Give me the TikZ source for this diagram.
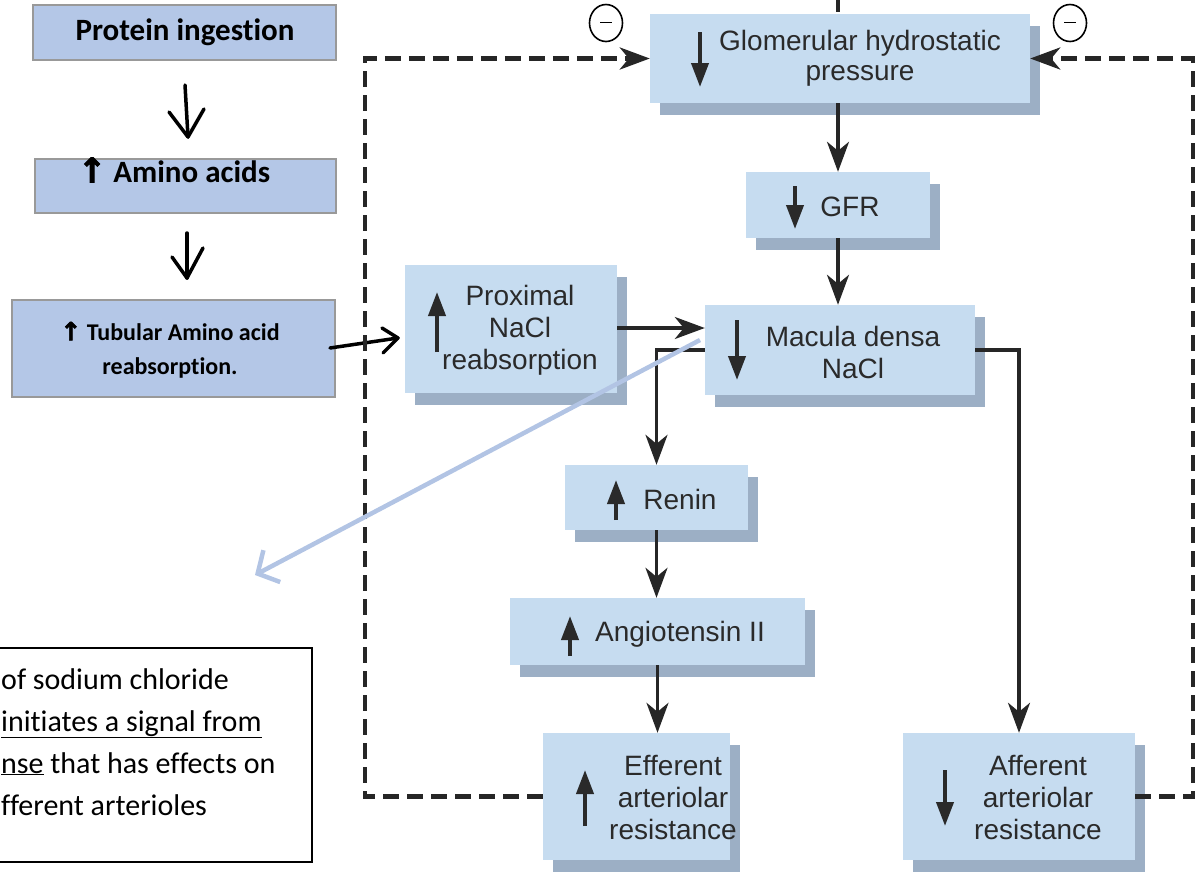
\documentclass[tikz,border=0pt]{standalone}
\usepackage{fontspec}
\setmainfont{Liberation Sans}
\newfontfamily\calfont[Ligatures=NoCommon]{Carlito}
\newfontfamily\symfont[FakeBold=2.5]{DejaVu Sans}
\usetikzlibrary{arrows.meta,shadows,calc,shapes.geometric}
\definecolor{boxblue}{HTML}{C6DCF0}
\definecolor{shadowblue}{HTML}{9CAFC5}
\definecolor{leftblue}{HTML}{B4C7E7}
\definecolor{txtgray}{HTML}{2A2A2A}
\definecolor{pointer}{HTML}{B2C4E4}
\tikzset{
  dbox/.style={rectangle, fill=boxblue, draw=none, inner sep=0,
    drop shadow={shadow xshift=10pt, shadow yshift=-12pt, fill=shadowblue, opacity=1}},
  lbox/.style={rectangle, fill=leftblue, draw=black!40, line width=2.5pt, inner sep=0},
  dtext/.style={font=\fontsize{28}{32}\selectfont, text=txtgray, align=center, inner sep=0},
  inarrow/.style={line width=4pt, draw=txtgray, -{Triangle[length=24pt,width=17pt]}},
  conn/.style={line width=3.5pt, draw=black!85, -{Stealth[length=30pt,width=22pt,inset=9pt]}},
  connline/.style={line width=3.5pt, draw=black!85},
  dashconn/.style={line width=4.5pt, draw=black!85, dash pattern=on 16pt off 8pt, -{Stealth[length=30pt,width=22pt,inset=9pt]}},
  hand/.style={line width=3.5pt, black, line cap=round, line join=round},
  ltext/.style={font=\calfont\bfseries, inner sep=0, align=center},
}
\begin{document}
\begin{tikzpicture}[x=1pt, y=-1pt]
\useasboundingbox (0,0) rectangle (1199,873);

% ---------- left boxes ----------
\node[lbox, minimum width=303pt, minimum height=55pt] (prot) at (184.5,32.5) {};
\node[ltext, font=\calfont\bfseries\fontsize{31}{34}\selectfont] (protT) at (185,32) {Protein ingestion};
\node[lbox, minimum width=301pt, minimum height=54pt] (amino) at (185.5,186) {};
\node[ltext, font=\calfont\bfseries\fontsize{31}{34}\selectfont] (aminoT) at (174,170) {{\symfont\fontsize{34}{34}\selectfont ↑} Amino acids};
\node[lbox, minimum width=323pt, minimum height=97pt] (tub) at (173.5,348.5) {};
\node[ltext, font=\calfont\bfseries\fontsize{24}{34}\selectfont] (tubT) at (170,350) {{\symfont\fontsize{25}{25}\selectfont ↑} Tubular Amino acid\\reabsorption.};

% hand-drawn arrows
\coordinate (h1a) at (185,85); \coordinate (h1b) at (188,137);
\draw[hand] (h1a) -- (h1b);
\draw[hand] ($(h1b)+(-19,-25)$) -- (h1b) -- ($(h1b)+(16,-28)$);
\coordinate (h2a) at (187,233); \coordinate (h2b) at (187,278);
\draw[hand] (h2a) -- (h2b);
\draw[hand] ($(h2b)+(-15,-21)$) -- (h2b) -- ($(h2b)+(16,-30)$);
\coordinate (h3a) at (330,348); \coordinate (h3b) at (398,338);
\draw[hand] (h3a) -- (h3b);
\draw[hand] ($(h3b)+(-16,-10)$) -- (h3b) -- ($(h3b)+(-15,15)$);

% ---------- diagram boxes ----------
\node[dbox, minimum width=380pt, minimum height=89pt] (glom) at (840,58.5) {};
\node[dtext, font=\fontsize{28}{30}\selectfont] (glomT) at (860,58) {Glomerular hydrostatic\\pressure};
\draw[inarrow] (700,32) -- (700,87);

\node[dbox, minimum width=184pt, minimum height=66pt] (gfr) at (838,205) {};
\node[dtext] (gfrT) at (850,207) {GFR};
\draw[inarrow] (795,186) -- (795,229);

\node[dbox, minimum width=270pt, minimum height=90pt] (mac) at (840,350) {};
\node[dtext] (macT) at (853,352) {Macula densa\\NaCl};
\draw[inarrow] (737,320) -- (737,380);

\node[dbox, minimum width=212pt, minimum height=128pt] (prox) at (511,329) {};
\node[dtext] (proxT) at (520,330) {Proximal\\NaCl\\reabsorption};
\draw[inarrow] (437,352) -- (437,292);

\node[dbox, minimum width=183pt, minimum height=65pt] (renin) at (656.5,497.5) {};
\node[dtext] (reninT) at (680,499) {Renin};
\draw[inarrow] (616,520) -- (616,480);

\node[dbox, minimum width=295pt, minimum height=67pt] (ang) at (657.5,631.5) {};
\node[dtext] (angT) at (680,634) {Angiotensin II};
\draw[inarrow] (570,656) -- (570,616);

\node[dbox, minimum width=187pt, minimum height=127pt] (eff) at (636.5,796.5) {};
\node[dtext] (effT) at (673,797) {Efferent\\arteriolar\\resistance};
\draw[inarrow] (585,826) -- (585,770);

\node[dbox, minimum width=232pt, minimum height=127pt] (aff) at (1019,796.5) {};
\node[dtext] (affT) at (1038,797) {Afferent\\arteriolar\\resistance};
\draw[inarrow] (945,770) -- (945,826);

% minus circles
\node[draw=black, line width=1.6pt, ellipse, minimum width=33pt, minimum height=37pt, inner sep=0] (m1) at (606,23) {};
\draw[line width=1pt] ($(m1.center)+(-6,-1)$) -- ($(m1.center)+(6,-1)$);
\node[draw=black, line width=1.6pt, ellipse, minimum width=33pt, minimum height=37pt, inner sep=0] (m2) at (1070,23) {};
\draw[line width=1pt] ($(m2.center)+(-6,-1)$) -- ($(m2.center)+(6,-1)$);

% ---------- connectors ----------
\coordinate (topin) at (838,-5);
\draw[connline] (topin) -- (838,12);
\draw[conn] (glom.south -| 838,0) -- (gfr.north -| 838,0);
\draw[conn] (gfr.south -| 838,0) -- (mac.north -| 838,0);
\draw[conn] (prox.east |- 0,328) -- (mac.west |- 0,328);
\draw[conn] (mac.west) -| (renin.north);
\draw[conn] (renin.south) -- (renin.south |- ang.north);
\draw[conn] (ang.south) -- (ang.south |- eff.north);
\draw[conn] (mac.east) -| (aff.north);
\draw[dashconn] (eff.west) -- ++(-178,0) |- (glom.west);
\draw[dashconn] (aff.east) -- ++(58,0) |- (glom.east);

% blue pointer
\coordinate (ps) at (700,340);
\coordinate (pe) at (255,575);
\draw[line width=4.5pt, pointer, -{Straight Barb[length=16pt,width=36pt,line width=4.5pt]}] (ps) -- (pe);

% ---------- note box ----------
\draw[line width=1.6pt] (-10,648) rectangle (312,862);
\node[anchor=north west, align=left, inner sep=0, font=\calfont\fontsize{30}{42}\selectfont] (note) at (1,668)
  {of sodium chloride\\\underline{initiates a signal from}\\\underline{nse} that has effects on\\fferent arterioles};
\end{tikzpicture}
\end{document}
